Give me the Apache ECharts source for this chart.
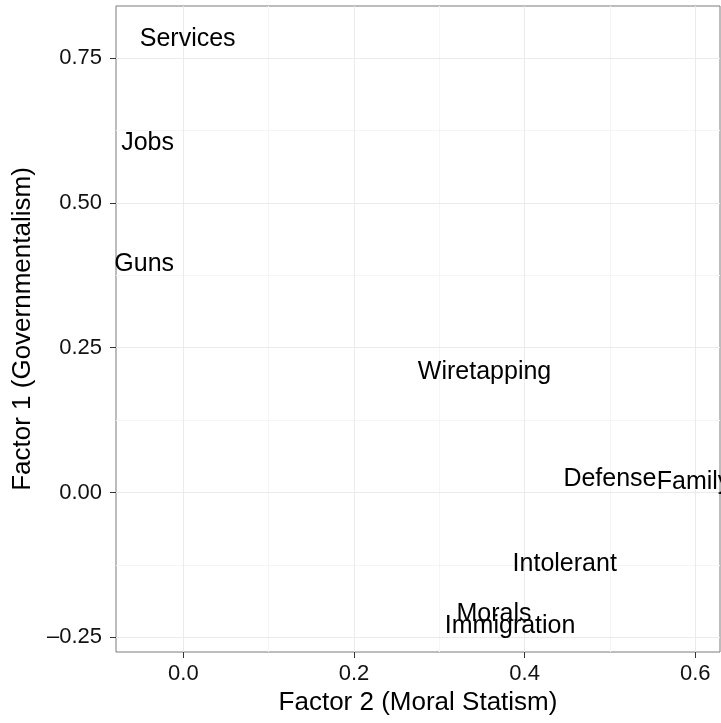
<!DOCTYPE html>
<html>
<head>
<meta charset="utf-8">
<script src="https://cdn.jsdelivr.net/npm/echarts@6/dist/echarts.min.js"></script>
<style>html,body{margin:0;padding:0;background:#fff}#c{width:721px;height:723px}</style>
</head>
<body>
<div id="c"></div>
<script>
const labels = ["Services","Jobs","Guns","Wiretapping","Defense","Family","Intolerant","Morals","Immigration"];
const factor2 = [0.005, -0.042, -0.046, 0.353, 0.500, 0.598, 0.447, 0.364, 0.383];
const factor1 = [0.786, 0.607, 0.398, 0.212, 0.027, 0.022, -0.120, -0.206, -0.227];
const xTicks = [0.0, 0.2, 0.4, 0.6];
const xMinor = [0.1, 0.3, 0.5];
const yTicks = [-0.25, 0.00, 0.25, 0.50, 0.75];
const yMinor = [-0.125, 0.125, 0.375, 0.625];
const xRange = [-0.079, 0.629];
const yRange = [-0.2754, 0.840];

const font = 'Liberation Sans, Arial, sans-serif';
const chart = echarts.init(document.getElementById('c'), null, {renderer:'canvas'});
const data = labels.map((n,i)=>({name:n, value:[factor2[i], factor1[i]]}));

function majorAxis(extra){
  return Object.assign({
    type:'value',
    axisLine:{show:false, onZero:false},
    splitLine:{show:true, lineStyle:{color:'#ebebeb', width:1}},
    minorTick:{show:false}, minorSplitLine:{show:false},
    nameTextStyle:{fontFamily:font, fontSize:26, color:'#000'},
    nameLocation:'middle'
  }, extra);
}
function minorAxis(extra){
  return Object.assign({
    type:'value',
    axisLine:{show:false, onZero:false},
    splitLine:{show:true, lineStyle:{color:'#f5f5f5', width:1}},
  }, extra);
}

chart.setOption({
  backgroundColor:'#fff',
  animation:false,
  grid:{left:116, top:6, right:1, bottom:71, show:true, borderColor:'#7a7a7a', borderWidth:1, backgroundColor:'transparent', containLabel:false},
  xAxis:[
    majorAxis({min:xRange[0], max:xRange[1], name:'Factor 2 (Moral Statism)', nameGap:35, z:2,
      axisTick:{show:true, length:6, customValues:xTicks, lineStyle:{color:'#333', width:1}},
      axisLabel:{fontFamily:font, fontSize:22, color:'#111', margin:11, customValues:xTicks, formatter:v=>v.toFixed(1)}}),
    minorAxis({min:xRange[0], max:xRange[1], position:'bottom', z:1,
      axisTick:{show:false, customValues:xMinor}, axisLabel:{show:false, customValues:xMinor}})
  ],
  yAxis:[
    majorAxis({min:yRange[0], max:yRange[1], name:'Factor 1 (Governmentalism)', nameGap:75, z:2,
      axisTick:{show:true, length:6, customValues:yTicks, lineStyle:{color:'#333', width:1}},
      axisLabel:{fontFamily:font, fontSize:22, color:'#111', margin:14, customValues:yTicks,
        formatter:v=>(v<0?'\u2013':'')+Math.abs(v).toFixed(2)}}),
    minorAxis({min:yRange[0], max:yRange[1], position:'left', z:1,
      axisTick:{show:false, customValues:yMinor}, axisLabel:{show:false, customValues:yMinor}})
  ],
  series:[{
    type:'scatter',
    xAxisIndex:0, yAxisIndex:0,
    symbolSize:0,
    data:data,
    z:5,
    label:{show:true, position:'inside', offset:[0,2], formatter:p=>p.name, fontFamily:font, fontSize:25, color:'#000', textBorderWidth:0, opacity:1},
    emphasis:{disabled:true}
  }]
});
</script>
</body>
</html>
